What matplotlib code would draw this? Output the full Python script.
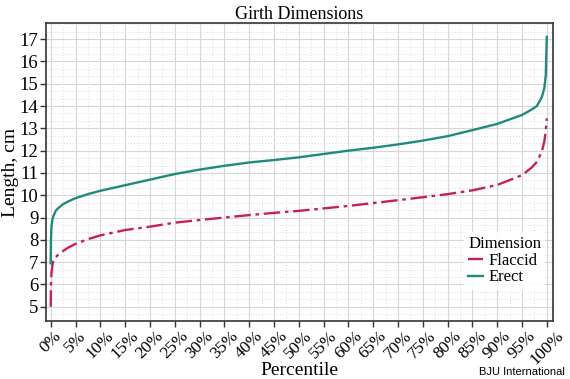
import matplotlib

matplotlib.use("Agg")

import matplotlib.pyplot as plt
from matplotlib.ticker import MultipleLocator, FuncFormatter

# percentile positions
percentile = [0, 0.05, 0.15, 0.3, 0.5, 1, 1.5, 2.5, 3.5, 5, 7.5, 10, 15, 20, 25, 30, 35,
              40, 45, 50, 55, 60, 65, 70, 75, 80, 85, 90, 95, 97, 98, 99, 99.5, 99.8, 100]
erect = [6.95, 8.0, 8.6, 8.85, 9.04, 9.3, 9.42, 9.6, 9.72, 9.87, 10.05, 10.2, 10.45,
         10.7, 10.95, 11.15, 11.32, 11.47, 11.58, 11.7, 11.85, 12.0, 12.13, 12.28,
         12.45, 12.65, 12.92, 13.2, 13.6, 13.85, 14.0, 14.4, 14.8, 15.4, 17.1]
flaccid = [5.0, 6.0, 6.5, 6.8, 7.05, 7.22, 7.33, 7.5, 7.65, 7.82, 8.03, 8.2, 8.44, 8.59,
           8.77, 8.89, 9.0, 9.11, 9.21, 9.3, 9.41, 9.52, 9.65, 9.78, 9.91, 10.05, 10.22,
           10.46, 10.9, 11.25, 11.5, 11.95, 12.4, 12.9, 13.45]

x_ticks = list(range(0, 101, 5))
y_ticks = list(range(5, 18))

SERIF = ["Liberation Serif", "DejaVu Serif"]
ERECT_COLOR = "#1f8b7c"
FLACCID_COLOR = "#c81e5e"

plt.rcParams["font.family"] = SERIF

fig = plt.figure(figsize=(5.7, 3.79), dpi=100)
ax = fig.add_axes((0.0807, 0.153, 0.889, 0.786))

ax.plot(percentile, flaccid, color=FLACCID_COLOR, linewidth=1.7,
        linestyle=(0, (7, 2, 1.5, 2)), label="Flaccid")
ax.plot(percentile, erect, color=ERECT_COLOR, linewidth=1.7, label="Erect")

ax.set_xlim(-0.95, 101.2)
ax.set_ylim(4.36, 17.72)
ax.set_xticks(x_ticks)
ax.set_yticks(y_ticks)
ax.xaxis.set_major_formatter(FuncFormatter(lambda v, _: f"{v:.0f}%"))
ax.xaxis.set_minor_locator(MultipleLocator(2.5))
ax.yaxis.set_minor_locator(MultipleLocator(1 / 3))

ax.grid(True, which="major", color="#d6d6d6", linewidth=0.8)
ax.grid(True, which="minor", color="#dcdcdc", linewidth=0.7, linestyle=(0, (1, 2)))
ax.set_axisbelow(True)

ax.tick_params(axis="both", which="major", length=4, width=1, color="#333333",
               labelsize=13.5, pad=1.5)
ax.tick_params(axis="x", which="major", labelsize=12.5, pad=1)
ax.tick_params(axis="both", which="minor", length=0)
for label in ax.get_xticklabels():
    label.set_rotation(45)
    label.set_ha("center")
    label.set_va("top")

for spine in ax.spines.values():
    spine.set_color("#333333")
    spine.set_linewidth(1.2)

ax.set_title("Girth Dimensions", fontsize=13, pad=3)
ax.set_xlabel("Percentile", fontsize=14)
ax.set_ylabel("Length, cm", fontsize=14)
ax.xaxis.set_label_coords(0.5, -0.138)
ax.yaxis.set_label_coords(-0.054, 0.5)

leg = ax.legend(loc="upper left", bbox_to_anchor=(0.825, 0.3), title="Dimension",
                fontsize=12, title_fontsize=12, frameon=True, handlelength=0.9,
                handletextpad=0.3, borderpad=0.25, labelspacing=0.05, borderaxespad=0)
leg._legend_box.align = "left"
leg.get_frame().set_facecolor("white")
leg.get_frame().set_edgecolor("none")
leg.get_frame().set_alpha(0.9)

fig.text(0.991, 0.018, "BJU International", ha="right", va="center", fontsize=8,
         family=["Liberation Sans", "DejaVu Sans"])

fig.savefig("out.png", dpi=100)
